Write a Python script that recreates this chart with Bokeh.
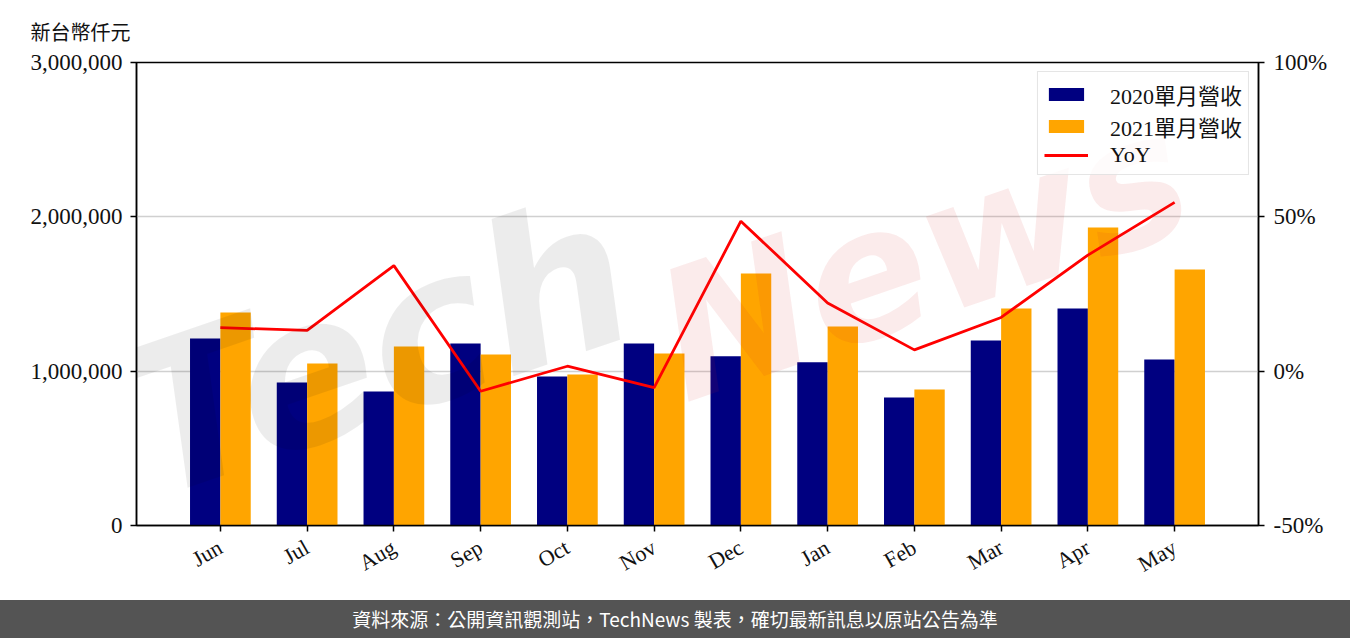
import math
from bokeh.plotting import figure
from bokeh.models import (ColumnDataSource, FactorRange, Range1d, LinearAxis, FixedTicker,
                          NumeralTickFormatter, PrintfTickFormatter, Legend, LegendItem, Label, Div)
from bokeh.transform import dodge
from bokeh.layouts import column
from bokeh.embed import file_html
from bokeh.resources import INLINE

# ---------------- data ----------------
months = ["Jun", "Jul", "Aug", "Sep", "Oct", "Nov", "Dec", "Jan", "Feb", "Mar", "Apr", "May"]
rev_2020 = [1212000, 927000, 868000, 1179000, 965000, 1179000, 1096000, 1057000, 829000, 1199000, 1406000, 1076000]
rev_2021 = [1380000, 1050000, 1160000, 1108000, 978000, 1115000, 1633000, 1290000, 881000, 1406000, 1931000, 1659000]
yoy_pct = [14.1, 13.2, 34.2, -6.5, 1.6, -5.3, 48.6, 22.1, 6.9, 17.4, 37.6, 54.7]

left_ticks = [0, 1000000, 2000000, 3000000]
right_ticks = [-50, 0, 50, 100]
series_names = ["2020單月營收", "2021單月營收", "YoY"]
unit_label = "新台幣仟元"
footer_text = "資料來源：公開資訊觀測站，TechNews 製表，確切最新訊息以原站公告為準"

SERIF = "'Liberation Serif', 'Noto Sans CJK TC'"

src = ColumnDataSource(dict(month=months, r20=rev_2020, r21=rev_2021, yoy=yoy_pct))

p = figure(width=1350, height=600, x_range=FactorRange(factors=months, range_padding=0.467,
                                                         range_padding_units="absolute"),
           y_range=Range1d(0, 3000000), output_backend="svg", toolbar_location=None,
           min_border_left=136, min_border_right=92, min_border_top=62, min_border_bottom=75)
p.background_fill_color = "white"
p.border_fill_color = "white"
p.outline_line_color = "black"
p.outline_line_width = 1.5

# unit label as title, shifted left over the axis labels
p.title.text = unit_label
p.title.align = "left"
p.title.offset = -106
p.title.standoff = 37
p.title.text_font = SERIF
p.title.text_font_size = "20px"
p.title.text_font_style = "normal"
p.title.text_color = "#111111"

# watermark
wm1 = Label(x=2.3, y=1150000, text="Tech", angle=0.33, text_align="center", text_baseline="middle",
            text_font_size="205px", text_font="DejaVu Sans", text_font_style="bold italic",
            text_color="#000000", text_alpha=0.075)
wm2 = Label(x=8.6, y=1750000, text="News", angle=0.33, text_align="center", text_baseline="middle",
            text_font_size="180px", text_font="DejaVu Sans", text_font_style="bold italic",
            text_color="#d81e1e", text_alpha=0.09)
p.add_layout(wm1)
p.add_layout(wm2)

b1 = p.vbar(x=dodge("month", -0.175, range=p.x_range), top="r20", width=0.35, source=src,
            fill_color="#000080", line_color=None)
b2 = p.vbar(x=dodge("month", 0.175, range=p.x_range), top="r21", width=0.35, source=src,
            fill_color="#FFA500", line_color=None)

p.extra_y_ranges = {"pct": Range1d(-50, 100)}
ln = p.line(x="month", y="yoy", source=src, y_range_name="pct", line_color="#FF0000", line_width=2.8)

# grid
p.xgrid.visible = False
p.ygrid.ticker = FixedTicker(ticks=left_ticks)
p.ygrid.grid_line_color = "#d0d0d0"
p.ygrid.grid_line_width = 1.5

# left axis
ly = p.yaxis[0]
ly.ticker = FixedTicker(ticks=left_ticks)
ly.formatter = NumeralTickFormatter(format="0,0")

# right axis
ry = LinearAxis(y_range_name="pct", ticker=FixedTicker(ticks=right_ticks),
                formatter=PrintfTickFormatter(format="%d%%"))
p.add_layout(ry, "right")

for ax in [ly, ry, p.xaxis[0]]:
    ax.axis_line_color = "black"
    ax.axis_line_width = 1.5
    ax.major_tick_line_color = "black"
    ax.major_tick_line_width = 1.5
    ax.major_tick_out = 6
    ax.major_tick_in = 0
    ax.minor_tick_line_color = None
    ax.major_label_text_font = SERIF
    ax.major_label_text_font_size = "23px"
    ax.major_label_text_color = "#111111"
ly.major_label_standoff = 8
ry.major_label_standoff = 9
p.xaxis[0].major_label_orientation = math.pi / 6
p.xaxis[0].major_label_text_font_size = "22px"
p.xaxis[0].major_label_standoff = 14

legend = Legend(items=[LegendItem(label=series_names[0], renderers=[b1]),
                       LegendItem(label=series_names[1], renderers=[b2]),
                       LegendItem(label=series_names[2], renderers=[ln])],
                location="top_right")
legend.label_text_font = SERIF
legend.label_text_font_size = "22px"
legend.label_text_color = "#111111"
legend.glyph_width = 44
legend.glyph_height = 16
legend.label_height = 22
legend.label_standoff = 22
legend.spacing = 0
legend.padding = 6
legend.margin = 9
legend.border_line_color = "#cccccc"
legend.border_line_width = 1.5
legend.background_fill_color = "white"
legend.background_fill_alpha = 0.8
p.add_layout(legend)

# footer band
footer = Div(text=footer_text, width=1350, height=38, margin=0,
             styles={"background-color": "#545454", "color": "#ffffff",
                     "font-family": "'Noto Sans CJK TC', sans-serif", "font-size": "19px",
                     "text-align": "center", "line-height": "38px",
                     "width": "1350px", "height": "38px", "overflow": "hidden"})

layout = column(p, footer, spacing=0)
open("out.html", "w").write(file_html(layout, INLINE))
